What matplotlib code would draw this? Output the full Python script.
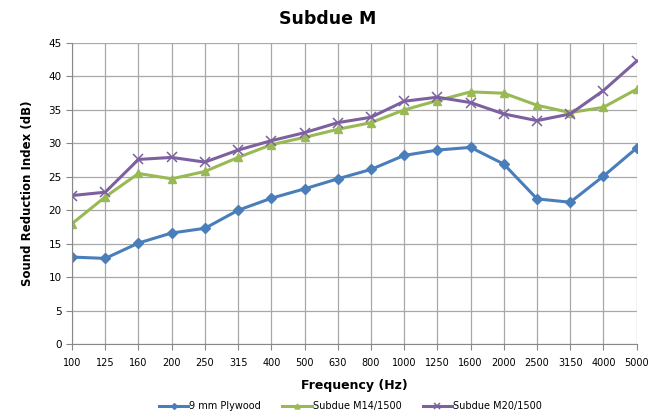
import matplotlib.pyplot as plt

# Data
freqs = ["100", "125", "160", "200", "250", "315", "400", "500", "630", "800",
         "1000", "1250", "1600", "2000", "2500", "3150", "4000", "5000"]
plywood = [13.0, 12.8, 15.1, 16.6, 17.3, 20.0, 21.8, 23.2, 24.7, 26.1,
           28.2, 29.0, 29.4, 26.9, 21.7, 21.2, 25.1, 29.3]
m14 = [18.0, 22.0, 25.5, 24.7, 25.8, 27.9, 29.8, 30.9, 32.1, 33.1,
       35.0, 36.4, 37.7, 37.5, 35.7, 34.6, 35.4, 38.1]
m20 = [22.2, 22.7, 27.6, 27.9, 27.2, 29.0, 30.4, 31.6, 33.1, 33.9,
       36.3, 36.9, 36.1, 34.4, 33.4, 34.4, 37.9, 42.3]

fig = plt.figure(figsize=(6.55, 4.18), dpi=100)
ax = fig.add_axes([0.110, 0.177, 0.862, 0.720])

x = range(len(freqs))
ax.plot(x, plywood, color='#4A7EBB', linewidth=2.2, marker='D', markersize=5, label='9 mm Plywood')
ax.plot(x, m14, color='#98B954', linewidth=2.2, marker='^', markersize=6, label='Subdue M14/1500')
ax.plot(x, m20, color='#7D60A0', linewidth=2.2, marker='x', markersize=6.5, markeredgewidth=1.1,
        label='Subdue M20/1500')

ax.set_xlim(0, len(freqs) - 1)
ax.set_ylim(0, 45)
ax.set_xticks(list(x))
ax.set_xticklabels(freqs, fontsize=7)
ax.set_yticks(range(0, 50, 5))
ax.tick_params(axis='y', labelsize=7.5, length=4, color='#888888')
ax.tick_params(axis='x', length=4, color='#888888', pad=6)
ax.grid(True, color='#A8A8A8', linewidth=0.9)
ax.set_axisbelow(True)
for s in ['top', 'right']:
    ax.spines[s].set_visible(False)
for s in ['left', 'bottom']:
    ax.spines[s].set_color('#888888')

ax.set_xlabel('Frequency (Hz)', fontsize=9, fontweight='bold', labelpad=8)
ax.set_ylabel('Sound Reduction Index (dB)', fontsize=8.5, fontweight='bold', labelpad=10)
fig.suptitle('Subdue M', fontsize=12.5, fontweight='bold', y=0.975)

fig.legend(loc='lower center', bbox_to_anchor=(0.535, -0.005), ncol=3, frameon=False,
           fontsize=7, handlelength=3.0, columnspacing=2.2, handletextpad=0.1, markerscale=0.6)

fig.savefig('out.png', dpi=100)
